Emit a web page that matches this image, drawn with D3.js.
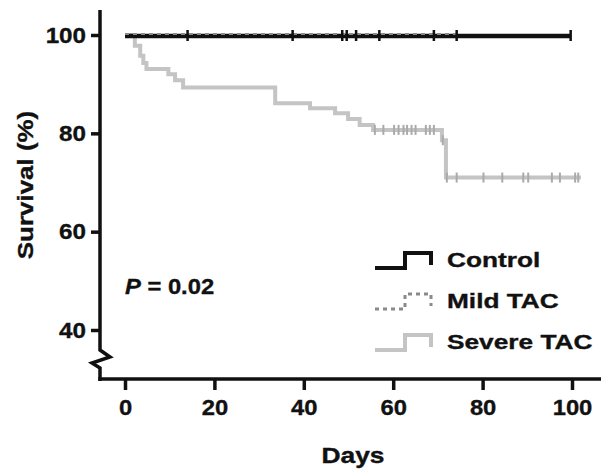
<!DOCTYPE html>
<html>
<head>
<meta charset="utf-8">
<script src="https://cdn.jsdelivr.net/npm/d3@7"></script>
<style>
  body { margin: 0; background: #fff; }
  svg text { font-family: "Liberation Sans", Arial, sans-serif; font-weight: bold; fill: #111; stroke: #111; stroke-width: 0.35px; }
</style>
</head>
<body>
<div id="chart"></div>
<script>
// Kaplan-Meier data
const xTicks = [0, 20, 40, 60, 80, 100];
const yTicks = [40, 60, 80, 100];

const controlTimes = [0, 99.7];
const controlSurv = [100, 100];
const controlCensor = [14.0, 37.5, 99.7];

const mildTimes = [0, 74.2];
const mildSurv = [100, 100];
const mildCensor = [48.6, 49.6, 51.7, 56.9, 69.1, 74.2];

const severeTimes = [0, 2.2, 3.4, 4.1, 4.8, 9.7, 11.2, 13.0, 33.6, 41.4, 47.0, 49.9, 52.5, 55.5, 70.9, 71.8, 102.0];
const severeSurv = [100, 97.8, 95.8, 94.3, 93.1, 92.0, 90.8, 89.3, 86.1, 85.1, 84.1, 82.9, 81.7, 80.7, 78.6, 71.0, 71.0];
const severeCensor = [55.9, 57.8, 60.2, 61.2, 62.3, 63.1, 64.1, 65.0, 67.3, 68.2, 69.1, 71.1, 72.0, 74.2, 80.2, 84.4, 89.1, 90.2, 95.5, 97.3, 100.7, 101.4];

const legendLabels = ["Control", "Mild TAC", "Severe TAC"];
const pText = "= 0.02";

const width = 607, height = 471;
const svg = d3.select("#chart").append("svg")
    .attr("width", width)
    .attr("height", height);

const x = d3.scaleLinear().domain([0, 100]).range([125, 572]);
const y = d3.scaleLinear().domain([40, 100]).range([330, 35]);
const axisX = 100, axisY = 379;

function survAt(times, surv, t) {
    let i = 0;
    while (i + 1 < times.length && times[i + 1] <= t) i++;
    return surv[i];
}

const line = d3.line()
    .x(d => x(d[0]))
    .y(d => y(d[1]))
    .curve(d3.curveStepAfter);

// severe TAC (under the others)
svg.append("path")
    .datum(d3.zip(severeTimes, severeSurv))
    .attr("d", line)
    .attr("fill", "none")
    .attr("stroke", "#c4c4c4")
    .attr("stroke-width", 4);

svg.selectAll(".sev-c")
    .data(severeCensor)
    .enter().append("line")
    .attr("x1", d => x(d)).attr("x2", d => x(d))
    .attr("y1", d => y(survAt(severeTimes, severeSurv, d)) - 5)
    .attr("y2", d => y(survAt(severeTimes, severeSurv, d)) + 5)
    .attr("stroke", "#aaa")
    .attr("stroke-width", 2);

// control
svg.append("path")
    .datum(d3.zip(controlTimes, controlSurv))
    .attr("d", line)
    .attr("transform", "translate(0,1)")
    .attr("fill", "none")
    .attr("stroke", "#111")
    .attr("stroke-width", 4.5);

// mild TAC, dotted on top edge of the control line
svg.append("path")
    .datum(d3.zip(mildTimes, mildSurv))
    .attr("d", line)
    .attr("transform", "translate(0,-1)")
    .attr("fill", "none")
    .attr("stroke", "#8a8a8a")
    .attr("stroke-width", 2)
    .attr("stroke-dasharray", "4,4");

svg.selectAll(".ctl-c")
    .data(controlCensor.concat(mildCensor))
    .enter().append("line")
    .attr("x1", d => x(d)).attr("x2", d => x(d))
    .attr("y1", y(100) - 5)
    .attr("y2", y(100) + 6)
    .attr("stroke", "#111")
    .attr("stroke-width", 2.5);

// y axis with break
const yAxis = d3.axisLeft(y).tickValues(yTicks).tickSize(9).tickPadding(5);
const gy = svg.append("g").attr("transform", `translate(${axisX},0)`).call(yAxis);
gy.select(".domain").remove();
gy.selectAll(".tick line").attr("stroke", "#111").attr("stroke-width", 3.5);
gy.selectAll(".tick text").style("font-size", "22px").attr("fill", "#111")
    .attr("x", -14 / 1.1).attr("transform", "scale(1.1,1)");

svg.append("path")
    .attr("d", `M${axisX},10 V350 L110,357 L92,363 L${axisX},368 V${axisY + 2}`)
    .attr("fill", "none")
    .attr("stroke", "#111")
    .attr("stroke-width", 3.5)
    .attr("stroke-linejoin", "miter");

// x axis
const xAxis = d3.axisBottom(x).tickValues(xTicks).tickSize(11).tickPadding(8);
const gx = svg.append("g").attr("transform", `translate(0,${axisY})`).call(xAxis);
gx.select(".domain").remove();
gx.selectAll(".tick line").attr("stroke", "#111").attr("stroke-width", 3.5);
gx.selectAll(".tick text").style("font-size", "22px").attr("fill", "#111")
    .attr("dy", null).attr("y", 36).attr("transform", "scale(1.08,1)");

svg.append("line")
    .attr("x1", axisX - 1.75).attr("x2", 601)
    .attr("y1", axisY).attr("y2", axisY)
    .attr("stroke", "#111")
    .attr("stroke-width", 3.5);

// axis titles
svg.append("text")
    .attr("transform", "translate(33,185) rotate(-90) scale(1.18,1)")
    .attr("text-anchor", "middle")
    .style("font-size", "22px")
    .text("Survival (%)");

svg.append("text")
    .attr("transform", "translate(353,463) scale(1.2,1)")
    .attr("text-anchor", "middle")
    .style("font-size", "22px")
    .text("Days");

// P value
const pt = svg.append("text")
    .attr("transform", "translate(125,294) scale(1.08,1)")
    .style("font-size", "22px");
pt.append("tspan").style("font-style", "italic").text("P");
pt.append("tspan").text(" " + pText);

// legend
const legendColors = ["#111", "#8a8a8a", "#c4c4c4"];
const legendDash = [null, "4,4", null];
const legendBase = [267, 308, 349];

legendLabels.forEach((lab, i) => {
    const b = legendBase[i];
    svg.append("path")
        .attr("d", `M375,${b + 1} H405 V${b - 14} H431 V${b - 2}`)
        .attr("fill", "none")
        .attr("stroke", legendColors[i])
        .attr("stroke-width", i === 1 ? 3 : 4)
        .attr("stroke-dasharray", legendDash[i]);
    svg.append("text")
        .attr("transform", `translate(447,${b}) scale(1.25,1)`)
        .style("font-size", "21px")
        .text(lab);
});
</script>
</body>
</html>
